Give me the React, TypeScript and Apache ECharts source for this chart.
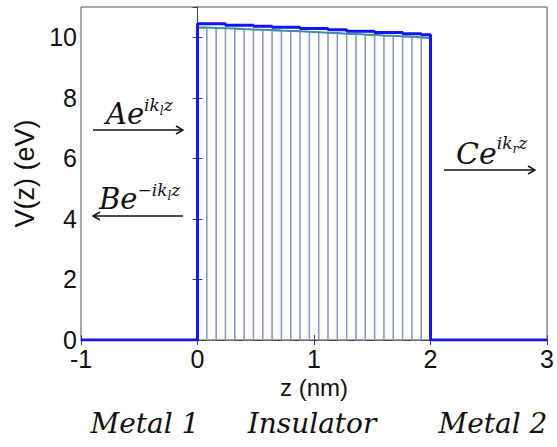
import React, { useEffect, useRef } from "react";
import * as echarts from "echarts";

// ---- data ----
const xTicks = [-1, 0, 1, 2, 3];
const yTicks = [0, 2, 4, 6, 8, 10];
// blue outline of the barrier: step edges (nm) and step heights (eV)
const barrierEdges = [0, 0.24, 0.48, 0.64, 0.88, 1.12, 1.28, 1.52, 1.76, 1.92, 2];
const barrierValues = [10.45, 10.4, 10.36, 10.33, 10.29, 10.25, 10.2, 10.16, 10.12, 10.08];
// discretised slices of the insulator (nm) and their top levels (eV)
const sliceEdges = [
  0, 0.08, 0.16, 0.24, 0.32, 0.4, 0.48, 0.56, 0.64, 0.72, 0.8, 0.88, 0.96,
  1.04, 1.12, 1.2, 1.28, 1.36, 1.44, 1.52, 1.6, 1.68, 1.76, 1.84, 1.92, 2,
];
const sliceTops = [
  10.32, 10.31, 10.3, 10.29, 10.27, 10.26, 10.25, 10.24, 10.22, 10.21, 10.2,
  10.18, 10.17, 10.15, 10.14, 10.12, 10.11, 10.09, 10.08, 10.06, 10.05,
  10.03, 10.02, 10.0, 9.98,
];
const regionLabels = ["Metal 1", "Insulator", "Metal 2"];

const sansFont = '"Liberation Sans", Arial, sans-serif';
const mathFont = '"DejaVu Serif", serif';

function measure(text: string, size: number) {
  const c = document.createElement("canvas").getContext("2d")!;
  c.font = `italic ${size}px "DejaVu Serif"`;
  return c.measureText(text).width;
}

type Piece = { t: string; size: number; rise: number };

function mathLabel(x0: number, baseline: number, pieces: Piece[]) {
  const out: any[] = [];
  let x = x0;
  for (const p of pieces) {
    out.push({
      type: "text",
      x,
      y: baseline - p.rise - 0.3 * p.size,
      style: {
        text: p.t,
        fontFamily: mathFont,
        fontStyle: "italic",
        fontSize: p.size,
        fill: "#111",
        align: "left",
        verticalAlign: "middle",
      },
    });
    x += measure(p.t, p.size);
  }
  return out;
}

function arrow(x1: number, x2: number, y: number, headAtRight: boolean) {
  const hx = headAtRight ? x2 : x1;
  const d = headAtRight ? -7 : 7;
  return [
    { type: "line", shape: { x1, y1: y, x2, y2: y }, style: { stroke: "#111", lineWidth: 1.5 } },
    {
      type: "polyline",
      shape: { points: [[hx + d, y - 4], [hx, y], [hx + d, y + 4]] },
      style: { stroke: "#111", lineWidth: 1.5, fill: null },
    },
  ];
}

export default function App() {
  const ref = useRef<HTMLDivElement>(null);
  useEffect(() => {
    document.body.style.margin = "0";
    const chart = echarts.init(ref.current!, undefined, { renderer: "svg" });

    const blue: number[][] = [[xTicks[0], 0], [0, 0]];
    barrierValues.forEach((v, i) => {
      blue.push([barrierEdges[i], v]);
      blue.push([barrierEdges[i + 1], v]);
    });
    blue.push([2, 0], [xTicks[xTicks.length - 1], 0]);

    const comb: number[][] = [[0, 0]];
    sliceTops.forEach((v, i) => {
      const lvl = i % 2 === 0 ? v : 0;
      comb.push([sliceEdges[i], lvl]);
      comb.push([sliceEdges[i + 1], lvl]);
    });
    comb.push([2, 0]);

    const tops: number[][] = [];
    sliceTops.forEach((v, i) => {
      tops.push([sliceEdges[i], v]);
      tops.push([sliceEdges[i + 1], v]);
    });

    const axisCommon = {
      axisLine: { show: true, lineStyle: { color: "#444", width: 1 } },
      axisTick: { show: true, inside: true, length: 5, lineStyle: { color: "#444" } },
      splitLine: { show: false },
    };

    const graphic: any[] = [
      ...mathLabel(106, 123, [
        { t: "Ae", size: 29, rise: 0 },
        { t: "ik", size: 17, rise: 13 },
        { t: "l", size: 12, rise: 8 },
        { t: "z", size: 17, rise: 13 },
      ]),
      ...arrow(93, 183, 130, true),
      ...mathLabel(99, 208, [
        { t: "Be", size: 29, rise: 0 },
        { t: "\u2212ik", size: 17, rise: 13 },
        { t: "l", size: 12, rise: 8 },
        { t: "z", size: 17, rise: 13 },
      ]),
      ...arrow(93, 183, 216, false),
      ...mathLabel(456, 162, [
        { t: "Ce", size: 30, rise: 0 },
        { t: "ik", size: 17, rise: 14 },
        { t: "r", size: 12, rise: 9 },
        { t: "z", size: 17, rise: 14 },
      ]),
      ...arrow(444, 535, 170, true),
    ];
    const regionCenters = [145, 312, 493];
    regionLabels.forEach((t, i) => {
      graphic.push({
        type: "text",
        x: regionCenters[i],
        y: 432 - 0.3 * 28,
        style: {
          text: t,
          fontFamily: mathFont,
          fontStyle: "italic",
          fontSize: 28,
          fill: "#111",
          align: "center",
          verticalAlign: "middle",
        },
      });
    });

    chart.setOption({
      animation: false,
      backgroundColor: "#fff",
      grid: {
        left: 81,
        right: 8,
        top: 7,
        bottom: 107,
        show: true,
        borderColor: "#555",
        borderWidth: 1,
        backgroundColor: "transparent",
      },
      xAxis: [
        {
          type: "value",
          min: xTicks[0],
          max: xTicks[xTicks.length - 1],
          interval: 1,
          position: "bottom",
          name: "z (nm)",
          nameLocation: "middle",
          nameGap: 31,
          nameTextStyle: { fontFamily: sansFont, fontSize: 24, color: "#111" },
          axisLabel: { fontFamily: sansFont, fontSize: 25, lineHeight: 19, color: "#111", margin: 9 },
          ...axisCommon,
        },
        {
          type: "value",
          min: xTicks[0],
          max: xTicks[xTicks.length - 1],
          interval: 1,
          position: "top",
          axisLabel: { show: false },
          ...axisCommon,
        },
      ],
      yAxis: [
        {
          type: "value",
          min: yTicks[0],
          max: 11,
          interval: 2,
          position: "left",
          name: "V(z) (eV)",
          nameLocation: "middle",
          nameGap: 43,
          nameTextStyle: { fontFamily: sansFont, fontSize: 27, color: "#111" },
          axisLabel: {
            fontFamily: sansFont,
            fontSize: 25,
            lineHeight: 18,
            color: "#111",
            margin: 4,
            showMaxLabel: false,
            formatter: (v: number) => (yTicks.includes(v) ? String(v) : ""),
          },
          ...axisCommon,
        },
        {
          type: "value",
          min: yTicks[0],
          max: 11,
          interval: 2,
          position: "right",
          axisLabel: { show: false },
          ...axisCommon,
        },
      ],
      series: [
        {
          type: "line",
          data: comb,
          showSymbol: false,
          lineStyle: { color: "#8a9bbd", width: 1.6 },
          z: 2,
        },
        {
          type: "line",
          data: tops,
          showSymbol: false,
          lineStyle: { color: "#3f8ea6", width: 2 },
          z: 3,
        },
        {
          type: "line",
          data: blue,
          showSymbol: false,
          lineStyle: { color: "#1414f5", width: 3 },
          z: 4,
        },
      ],
      graphic,
    });
    return () => chart.dispose();
  }, []);
  return <div ref={ref} style={{ width: 557, height: 447, position: "fixed", left: 0, top: 0 }} />;
}
